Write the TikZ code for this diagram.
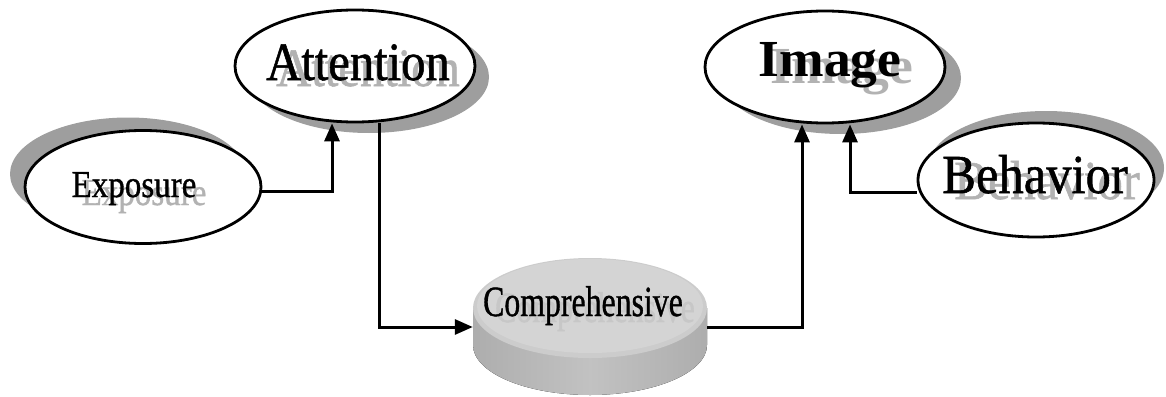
\documentclass[tikz,border=0pt]{standalone}
\usepackage{fontspec}
\setmainfont{Liberation Serif}
\newfontfamily\heavy{Liberation Serif}[UprightFeatures={FakeBold=1}]
\usetikzlibrary{shapes.geometric,arrows.meta}
\tikzset{
  oval/.style={ellipse, draw=black, line width=2.8pt, fill=white, inner sep=0pt},
  ovalshadow/.style={ellipse, fill=black!38, draw=none, inner sep=0pt},
  ghost/.style={text=black!30, anchor=base, inner sep=0pt},
  label/.style={text=black, anchor=base, inner sep=0pt},
  conn/.style={line width=3pt, -{Triangle[length=18pt,width=15pt]}},
}
\begin{document}
\begin{tikzpicture}[x=1pt,y=-1pt]
\useasboundingbox (0,0) rectangle (1166,396);
% shadows
\node[ovalshadow, minimum width=236pt, minimum height=113pt] (exps) at (128,174) {};
\node[ovalshadow, minimum width=240pt, minimum height=112pt] (atts) at (369,77) {};
\node[ovalshadow, minimum width=240pt, minimum height=112pt] (imgs) at (841,78) {};
\node[ovalshadow, minimum width=236pt, minimum height=114pt] (behs) at (1046,168) {};
% ovals
\node[oval, minimum width=236pt, minimum height=113pt] (exp) at (143,187) {};
\node[oval, minimum width=240pt, minimum height=112pt] (att) at (355,66) {};
\node[oval, minimum width=240pt, minimum height=112pt] (img) at (825,67) {};
\node[oval, minimum width=236pt, minimum height=114pt] (beh) at (1036,180) {};
% comprehensive disc
\node[ellipse, minimum width=234pt, minimum height=140pt, inner sep=0pt] (comp) at (590,327) {};
\fill[left color=black!32, right color=black!32, middle color=black!24] (473,308) -- (473,345) arc[start angle=180, end angle=360, x radius=117, y radius=-50] -- (707,308) -- cycle;
\fill[black!20] (590,308) ellipse[x radius=117, y radius=50];
\fill[black!17] (590,306) ellipse[x radius=113, y radius=47];
% texts
\node[ghost] (expg) at (144,205) {\heavy\fontsize{38}{38}\selectfont\scalebox{0.87}[1]{Exposure}};
\node[label] (expt) at (134,197) {\heavy\fontsize{38}{38}\selectfont\scalebox{0.87}[1]{Exposure}};
\node[ghost] (attg) at (368,86) {\heavy\fontsize{54}{54}\selectfont\scalebox{0.9}[1]{Attention}};
\node[label] (attt) at (358,80) {\heavy\fontsize{54}{54}\selectfont\scalebox{0.9}[1]{Attention}};
\node[ghost] (imgg) at (842,83) {\fontsize{52}{52}\selectfont\bfseries\scalebox{1.03}[1]{Image}};
\node[label] (imgt) at (830,77) {\fontsize{52}{52}\selectfont\bfseries\scalebox{1.03}[1]{Image}};
\node[ghost] (behg) at (1047,199) {\heavy\fontsize{55}{55}\selectfont\scalebox{0.92}[1]{Behavior}};
\node[label] (beht) at (1035,193) {\heavy\fontsize{55}{55}\selectfont\scalebox{0.92}[1]{Behavior}};
\node[ghost, text=black!22] (compg) at (595,322) {\heavy\fontsize{43}{43}\selectfont\scalebox{0.74}[1]{Comprehensive}};
\node[label] (compt) at (583,316) {\heavy\fontsize{43}{43}\selectfont\scalebox{0.74}[1]{Comprehensive}};
% connectors
\draw[conn] ([yshift=-4pt]exp.east) -| ([xshift=-23pt]att.south);
\draw[conn] ([xshift=24pt]att.south) |- (comp.west);
\draw[conn] (comp.east) -| ([xshift=-23pt]img.south);
\draw[conn] ([yshift=-12pt]beh.west) -| ([xshift=25pt]img.south);
\end{tikzpicture}
\end{document}
